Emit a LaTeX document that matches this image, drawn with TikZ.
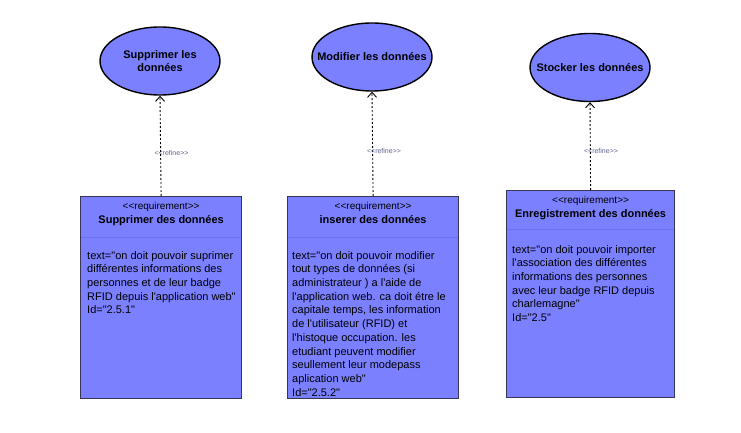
\documentclass[tikz,border=0pt]{standalone}
\usepackage{fontspec}
\newfontfamily\uml{Liberation Sans}[Ligatures=TeXOff]
\usetikzlibrary{arrows.meta,shapes.geometric,calc}
\definecolor{umlfill}{RGB}{122,128,255}
\definecolor{umlborder}{RGB}{55,55,85}
\definecolor{umldiv}{RGB}{108,114,238}
\definecolor{refgray}{RGB}{95,100,140}
\begin{document}
\begin{tikzpicture}[x=1pt,y=-1pt,
  uc/.style={ellipse,draw=black,line width=1.4pt,fill=umlfill,inner sep=0pt,minimum width=120pt,minimum height=68pt},
  uctext/.style={font=\uml\fontsize{11}{13}\selectfont\bfseries,align=center,inner sep=0pt},
  req/.style={rectangle,draw=umlborder,line width=1.2pt,fill=umlfill,inner sep=0pt,anchor=north west},
  stereo/.style={font=\uml\fontsize{10}{12}\selectfont,inner sep=0pt,anchor=base},
  reqtitle/.style={font=\uml\fontsize{11}{13}\selectfont\bfseries,inner sep=0pt,anchor=base},
  body/.style={font=\uml\fontsize{11}{13.7}\selectfont,align=left,inner sep=0pt,anchor=north west},
  div/.style={draw=umldiv,line width=0.6pt},
  refine/.style={draw=black,line width=0.9pt,dash pattern=on 2pt off 2pt,-{Straight Barb[length=5pt,width=9pt,line width=0.9pt]}},
  reflabel/.style={font=\uml\fontsize{7}{8}\selectfont,text=refgray,inner sep=0pt}
]
\useasboundingbox (0,0) rectangle (741,433);
\fill[white] (0,0) rectangle (741,433);

% use cases
\node[uc] (u1) at (160,61) {};
\node[uctext] (u1t) at (u1) {Supprimer les\\donn\'ees};
\node[uc] (u2) at (372,57) {};
\node[uctext] (u2t) at (u2) {Modifier les donn\'ees};
\node[uc] (u3) at (590,67.5) {};
\node[uctext] (u3t) at (u3) {Stocker les donn\'ees};

% requirements
\node[req,minimum width=161pt,minimum height=202pt] (r1) at (80,196) {};
\draw[div] ($(r1.north west)+(1,41)$) -- ($(r1.north east)+(-1,41)$);
\node[stereo] (r1s) at ($(r1.north)+(0,13)$) {<{}<requirement>{}>};
\node[reqtitle] (r1t) at ($(r1.north)+(0,27)$) {Supprimer des donn\'ees};
\node[body] (r1b) at ($(r1.north west)+(7,55)$) {text="on doit pouvoir suprimer\\diff\'erentes informations des\\personnes et de leur badge\\RFID depuis l'application web"\\Id="2.5.1"};

\node[req,minimum width=171pt,minimum height=202pt] (r2) at (287,196) {};
\draw[div] ($(r2.north west)+(1,41)$) -- ($(r2.north east)+(-1,41)$);
\node[stereo] (r2s) at ($(r2.north)+(0,13)$) {<{}<requirement>{}>};
\node[reqtitle] (r2t) at ($(r2.north)+(0,27)$) {inserer des donn\'ees};
\node[body] (r2b) at ($(r2.north west)+(5,55)$) {text="on doit pouvoir modifier\\tout types de donn\'ees (si\\administrateur ) a l'aide de\\l'application web. ca doit \'etre le\\capitale temps, les information\\de l'utilisateur (RFID) et\\l'histoque occupation. les\\etudiant peuvent modifier\\seullement leur modepass\\aplication web"\\Id="2.5.2"};

\node[req,minimum width=168pt,minimum height=207pt] (r3) at (506,190) {};
\draw[div] ($(r3.north west)+(1,39)$) -- ($(r3.north east)+(-1,39)$);
\node[stereo] (r3s) at ($(r3.north)+(0,13)$) {<{}<requirement>{}>};
\node[reqtitle] (r3t) at ($(r3.north)+(0,27)$) {Enregistrement des donn\'ees};
\node[body] (r3b) at ($(r3.north west)+(6,55)$) {text="on doit pouvoir importer\\l'association des diff\'erentes\\informations des personnes\\avec leur badge RFID depuis\\charlemagne"\\Id="2.5"};

% refine connectors
\draw[refine] (r1.north) -- (u1.south);
\draw[refine] (r2.north) -- (u2.south);
\draw[refine] (r3.north) -- (u3.south);
\node[reflabel] (l1) at (171.5,153) {<{}<refine>{}>};
\node[reflabel] (l2) at (384,151) {<{}<refine>{}>};
\node[reflabel] (l3) at (601,151) {<{}<refine>{}>};
\end{tikzpicture}
\end{document}
